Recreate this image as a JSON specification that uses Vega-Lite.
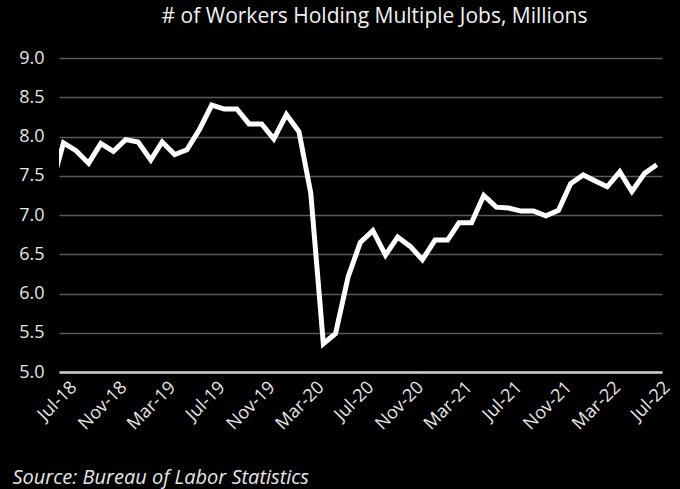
{
  "$schema": "https://vega.github.io/schema/vega-lite/v6.json",
  "width": 603,
  "height": 314,
  "autosize": {"type": "none"},
  "padding": {"left": 59, "top": 58, "right": 18, "bottom": 117},
  "background": "#000000",
  "title": {
    "text": "# of Workers Holding Multiple Jobs, Millions",
    "color": "#f2f2f2",
    "fontSize": 21,
    "font": "Open Sans",
    "fontWeight": "normal",
    "anchor": "middle",
    "dx": 14,
    "offset": 22
  },
  "config": {"view": {"stroke": null}},
  "data": {
    "values": [
      {"date": "2018-06-01", "workers": 7.35},
      {"date": "2018-07-01", "workers": 7.92},
      {"date": "2018-08-01", "workers": 7.82},
      {"date": "2018-09-01", "workers": 7.66},
      {"date": "2018-10-01", "workers": 7.91},
      {"date": "2018-11-01", "workers": 7.81},
      {"date": "2018-12-01", "workers": 7.96},
      {"date": "2019-01-01", "workers": 7.93},
      {"date": "2019-02-01", "workers": 7.70},
      {"date": "2019-03-01", "workers": 7.93},
      {"date": "2019-04-01", "workers": 7.77},
      {"date": "2019-05-01", "workers": 7.83},
      {"date": "2019-06-01", "workers": 8.09},
      {"date": "2019-07-01", "workers": 8.40},
      {"date": "2019-08-01", "workers": 8.35},
      {"date": "2019-09-01", "workers": 8.35},
      {"date": "2019-10-01", "workers": 8.16},
      {"date": "2019-11-01", "workers": 8.16},
      {"date": "2019-12-01", "workers": 7.97},
      {"date": "2020-01-01", "workers": 8.28},
      {"date": "2020-02-01", "workers": 8.06},
      {"date": "2020-03-01", "workers": 7.28},
      {"date": "2020-04-01", "workers": 5.36},
      {"date": "2020-05-01", "workers": 5.49},
      {"date": "2020-06-01", "workers": 6.21},
      {"date": "2020-07-01", "workers": 6.65},
      {"date": "2020-08-01", "workers": 6.80},
      {"date": "2020-09-01", "workers": 6.49},
      {"date": "2020-10-01", "workers": 6.72},
      {"date": "2020-11-01", "workers": 6.60},
      {"date": "2020-12-01", "workers": 6.43},
      {"date": "2021-01-01", "workers": 6.68},
      {"date": "2021-02-01", "workers": 6.68},
      {"date": "2021-03-01", "workers": 6.90},
      {"date": "2021-04-01", "workers": 6.90},
      {"date": "2021-05-01", "workers": 7.25},
      {"date": "2021-06-01", "workers": 7.10},
      {"date": "2021-07-01", "workers": 7.09},
      {"date": "2021-08-01", "workers": 7.05},
      {"date": "2021-09-01", "workers": 7.05},
      {"date": "2021-10-01", "workers": 6.99},
      {"date": "2021-11-01", "workers": 7.06},
      {"date": "2021-12-01", "workers": 7.40},
      {"date": "2022-01-01", "workers": 7.51},
      {"date": "2022-02-01", "workers": 7.43},
      {"date": "2022-03-01", "workers": 7.36},
      {"date": "2022-04-01", "workers": 7.55},
      {"date": "2022-05-01", "workers": 7.30},
      {"date": "2022-06-01", "workers": 7.53},
      {"date": "2022-07-01", "workers": 7.64}
    ]
  },
  "mark": {"type": "line", "color": "#ffffff", "strokeWidth": 5, "clip": true},
  "encoding": {
    "x": {
      "field": "date",
      "type": "temporal",
      "scale": {
        "type": "utc",
        "domain": [
          {"year": 2018, "month": 6, "date": 20, "utc": true},
          {"year": 2022, "month": 7, "date": 14, "utc": true}
        ]
      },
      "axis": {
        "values": [
          {"year": 2018, "month": 7, "date": 1, "utc": true},
          {"year": 2018, "month": 11, "date": 1, "utc": true},
          {"year": 2019, "month": 3, "date": 1, "utc": true},
          {"year": 2019, "month": 7, "date": 1, "utc": true},
          {"year": 2019, "month": 11, "date": 1, "utc": true},
          {"year": 2020, "month": 3, "date": 1, "utc": true},
          {"year": 2020, "month": 7, "date": 1, "utc": true},
          {"year": 2020, "month": 11, "date": 1, "utc": true},
          {"year": 2021, "month": 3, "date": 1, "utc": true},
          {"year": 2021, "month": 7, "date": 1, "utc": true},
          {"year": 2021, "month": 11, "date": 1, "utc": true},
          {"year": 2022, "month": 3, "date": 1, "utc": true},
          {"year": 2022, "month": 7, "date": 1, "utc": true}
        ],
        "labelExpr": "utcFormat(datum.value, '%b-%y')",
        "labelAngle": -45,
        "labelAlign": "right",
        "labelBaseline": "top",
        "labelPadding": 6,
        "labelOffset": 4,
        "labelFont": "Open Sans",
        "labelFontSize": 18,
        "labelColor": "#e6e6e6",
        "labelOverlap": false,
        "labelFlush": false,
        "ticks": false,
        "grid": false,
        "domainColor": "#d0d0d0",
        "domainWidth": 2.5,
        "zindex": 1,
        "title": "Source: Bureau of Labor Statistics",
        "titleFont": "Open Sans",
        "titleFontSize": 20,
        "titleFontStyle": "italic",
        "titleFontWeight": "normal",
        "titleColor": "#e6e6e6",
        "titleAlign": "left",
        "titleAnchor": "start",
        "titleBaseline": "alphabetic",
        "titleX": -47,
        "titleY": 111
      }
    },
    "y": {
      "field": "workers",
      "type": "quantitative",
      "scale": {"domain": [5, 9], "nice": false, "zero": false},
      "axis": {
        "values": [5, 5.5, 6, 6.5, 7, 7.5, 8, 8.5, 9],
        "format": ".1f",
        "labelFont": "Open Sans",
        "labelFontSize": 18,
        "labelColor": "#e6e6e6",
        "labelPadding": 15,
        "ticks": false,
        "domain": false,
        "gridColor": "#5a5a5a",
        "gridWidth": 1.5,
        "title": null
      }
    }
  }
}
